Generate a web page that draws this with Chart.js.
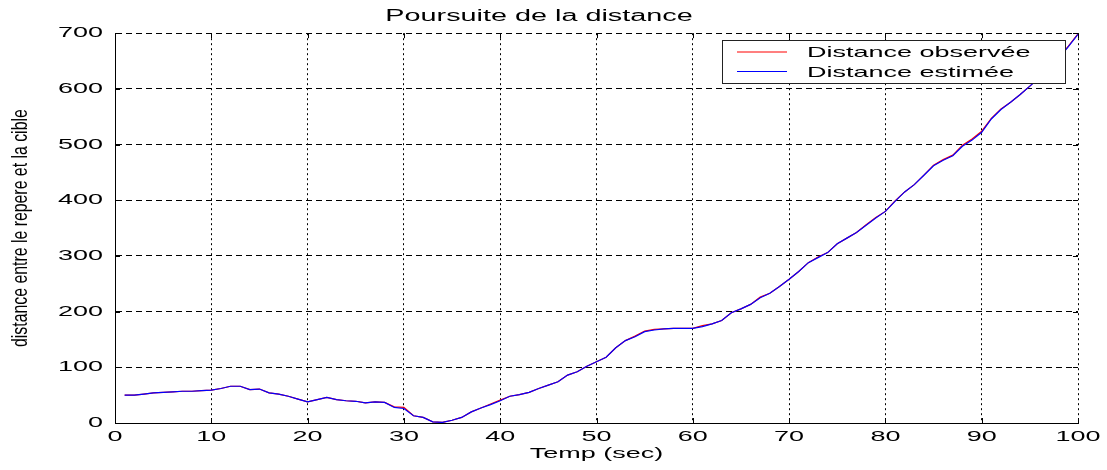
<!DOCTYPE html>
<html>
<head>
<meta charset="utf-8">
<script src="https://cdn.jsdelivr.net/npm/chart.js@4/dist/chart.umd.min.js"></script>
<style>
  html, body { margin: 0; padding: 0; background: #fff; }
  canvas { display: block; }
</style>
</head>
<body>
<canvas id="c" width="1107" height="470"></canvas>
<script>
// Time samples (s)
const times = [
  1, 2, 3, 4, 5, 6, 7, 8, 9, 10,
  11, 12, 13, 14, 15, 16, 17, 18, 19, 20,
  21, 22, 23, 24, 25, 26, 27, 28, 29, 30,
  31, 32, 33, 34, 35, 36, 37, 38, 39, 40,
  41, 42, 43, 44, 45, 46, 47, 48, 49, 50,
  51, 52, 53, 54, 55, 56, 57, 58, 59, 60,
  61, 62, 63, 64, 65, 66, 67, 68, 69, 70,
  71, 72, 73, 74, 75, 76, 77, 78, 79, 80,
  81, 82, 83, 84, 85, 86, 87, 88, 89, 90,
  91, 92, 93, 94, 95, 96, 97, 98, 99, 100
];

// Measured range to the target
const observed = [
  50, 50, 52, 54, 55, 56, 57, 57, 58, 59,
  62, 66, 66, 60, 61, 54, 52, 48, 43, 38,
  42, 46, 42, 40, 39, 36, 38, 37, 29, 28,
  13, 10, 2, 1, 5, 10, 20, 27, 34, 41,
  48, 51, 55, 62, 68, 74, 86, 92, 102, 110,
  118, 135, 148, 156, 165, 168, 169, 170, 170, 170,
  175, 178, 184, 198, 205, 213, 226, 233, 245, 258,
  272, 288, 298, 306, 322, 332, 342, 356, 369, 380,
  399, 415, 428, 445, 463, 473, 481, 499, 510, 524,
  547, 564, 576, 590, 605, 621, 639, 656, 677, 699
];

// Filter estimate of the same range
const estimated = [
  50, 50, 52, 54, 55, 56, 57, 57, 58, 59,
  62, 66, 66, 60, 61, 54, 52, 48, 43, 38,
  42, 46, 42, 40, 39, 36, 38, 37, 28, 26,
  13, 10, 2, 1, 5, 10, 20, 27, 33, 40,
  48, 51, 55, 62, 68, 74, 86, 92, 102, 110,
  118, 135, 148, 155, 164, 167, 169, 170, 170, 170,
  173, 178, 184, 198, 205, 213, 225, 233, 245, 258,
  272, 288, 297, 306, 322, 332, 342, 355, 368, 380,
  398, 415, 428, 445, 462, 472, 480, 497, 508, 522,
  546, 563, 576, 590, 605, 620, 638, 655, 676, 698
];

const seriesLabels = ['Distance observée', 'Distance estimée'];
const xTickValues = [0, 10, 20, 30, 40, 50, 60, 70, 80, 90, 100];
const yTickValues = [0, 100, 200, 300, 400, 500, 600, 700];

const FONT = '"Liberation Sans", Arial, sans-serif';

const canvas = document.getElementById('c');
const ctx = canvas.getContext('2d');

// The figure's lettering is set in a widened face; the rotated axis label
// uses a condensed one. Scale glyphs horizontally around their anchor.
const WIDE = 1.8, NARROW = 0.72;
const baseFill = ctx.fillText.bind(ctx);
const baseMeasure = ctx.measureText.bind(ctx);
function stretchFor(c) {
  const m = c.getTransform();
  return Math.abs(m.b) > 0.5 ? NARROW : WIDE;
}
ctx.fillText = function (text, x, y, maxWidth) {
  const s = stretchFor(this);
  this.save();
  this.translate(x, y);
  this.scale(s, 1);
  if (maxWidth !== undefined && maxWidth !== null) baseFill(text, 0, 0, maxWidth / s);
  else baseFill(text, 0, 0);
  this.restore();
};
ctx.measureText = function (text) {
  const m = baseMeasure(text);
  const s = stretchFor(this);
  return {
    width: m.width * s,
    actualBoundingBoxLeft: m.actualBoundingBoxLeft * s,
    actualBoundingBoxRight: m.actualBoundingBoxRight * s,
    actualBoundingBoxAscent: m.actualBoundingBoxAscent,
    actualBoundingBoxDescent: m.actualBoundingBoxDescent,
    fontBoundingBoxAscent: m.fontBoundingBoxAscent,
    fontBoundingBoxDescent: m.fontBoundingBoxDescent
  };
};

// Inward tick marks on all four sides, plus a boxed legend over the curves
const frameAndLegend = {
  id: 'frameAndLegend',
  afterDatasetsDraw(chart) {
    const c = chart.ctx;
    const a = chart.chartArea;
    const xs = chart.scales.x, ys = chart.scales.y;
    c.save();
    c.strokeStyle = '#000';
    c.lineWidth = 1;
    c.setLineDash([]);
    c.beginPath();
    xTickValues.forEach(v => {
      const px = Math.round(xs.getPixelForValue(v)) + 0.5;
      c.moveTo(px, a.bottom); c.lineTo(px, a.bottom - 5);
      c.moveTo(px, a.top); c.lineTo(px, a.top + 5);
    });
    yTickValues.forEach(v => {
      const py = Math.round(ys.getPixelForValue(v)) + 0.5;
      c.moveTo(a.left, py); c.lineTo(a.left + 5, py);
      c.moveTo(a.right, py); c.lineTo(a.right - 5, py);
    });
    c.stroke();

    // legend box
    const bw = 343, bh = 43;
    const bx = Math.round(a.right - 13 - bw), by = Math.round(a.top + 7);
    c.fillStyle = '#fff';
    c.fillRect(bx, by, bw, bh);
    c.strokeStyle = '#222';
    c.strokeRect(bx + 0.5, by + 0.5, bw, bh);
    c.font = '15px ' + FONT;
    c.textBaseline = 'middle';
    c.textAlign = 'left';
    chart.data.datasets.forEach((ds, i) => {
      const ry = by + 12 + i * 19.5;
      c.strokeStyle = ds.borderColor;
      c.lineWidth = 1.2;
      c.beginPath();
      c.moveTo(bx + 15, ry); c.lineTo(bx + 65, ry);
      c.stroke();
      c.fillStyle = '#000';
      c.fillText(ds.label, bx + 85, ry + 1);
    });
    c.restore();
  }
};

new Chart(ctx, {
  type: 'line',
  data: {
    datasets: [
      {
        label: seriesLabels[0],
        data: times.map((t, i) => ({ x: t, y: observed[i] })),
        borderColor: '#ff0000',
        borderWidth: 1.2,
        pointRadius: 0,
        tension: 0,
        order: 2
      },
      {
        label: seriesLabels[1],
        data: times.map((t, i) => ({ x: t, y: estimated[i] })),
        borderColor: '#0000ff',
        borderWidth: 1.2,
        pointRadius: 0,
        tension: 0,
        order: 1
      }
    ]
  },
  options: {
    responsive: false,
    animation: false,
    devicePixelRatio: 1,
    layout: { padding: { left: 0, right: 29, top: 0, bottom: 0 } },
    plugins: {
      legend: { display: false },
      tooltip: { enabled: false },
      title: {
        display: true,
        text: 'Poursuite de la distance',
        color: '#000',
        font: { family: FONT, size: 16, weight: 'normal' },
        padding: { top: 7, bottom: 7 }
      }
    },
    scales: {
      x: {
        type: 'linear',
        min: 0,
        max: 100,
        afterBuildTicks: s => { s.ticks = xTickValues.map(v => ({ value: v })); },
        afterFit: s => { s.height = 47; },
        grid: { color: '#000', lineWidth: 1, drawTicks: false },
        border: { display: true, color: '#000', width: 1, dash: [2, 3] },
        ticks: {
          color: '#000',
          font: { family: FONT, size: 15 },
          padding: 5,
          maxRotation: 0,
          autoSkip: false
        },
        title: {
          display: true,
          text: 'Temp (sec)',
          color: '#000',
          font: { family: FONT, size: 15 },
          padding: { top: 0, bottom: 7 }
        }
      },
      y: {
        type: 'linear',
        min: 0,
        max: 700,
        afterBuildTicks: s => { s.ticks = yTickValues.map(v => ({ value: v })); },
        afterFit: s => { s.width = 115; },
        grid: { color: '#000', lineWidth: 1, drawTicks: false },
        border: { display: true, color: '#000', width: 1, dash: [6, 4] },
        ticks: {
          color: '#000',
          font: { family: FONT, size: 15 },
          padding: 12
        },
        title: {
          display: true,
          text: 'distance entre le repere et la cible',
          color: '#000',
          font: { family: FONT, size: 22 },
          padding: { top: 8, bottom: 0 }
        }
      }
    }
  },
  plugins: [frameAndLegend]
});
</script>
</body>
</html>
